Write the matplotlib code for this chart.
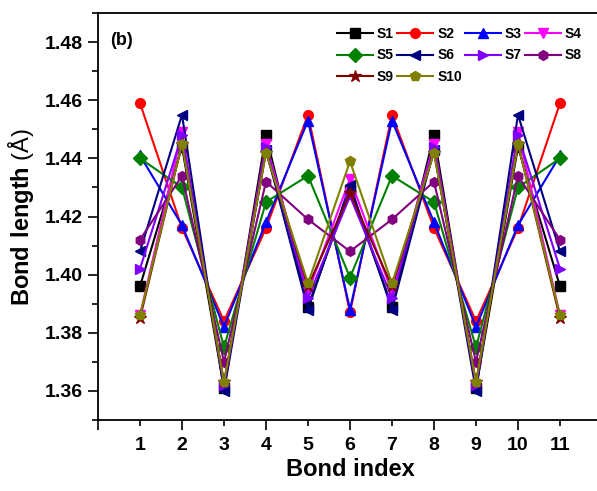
import matplotlib
matplotlib.use("Agg")
import matplotlib.pyplot as plt

plt.rcParams['font.family'] = ['Liberation Sans', 'DejaVu Sans']
plt.rcParams['font.weight'] = 'bold'
plt.rcParams['mathtext.fontset'] = 'custom'
plt.rcParams['mathtext.bf'] = 'Liberation Sans:bold'
plt.rcParams['mathtext.rm'] = 'Liberation Sans'

bond_index = [1, 2, 3, 4, 5, 6, 7, 8, 9, 10, 11]

s1 = [1.396, 1.444, 1.361, 1.448, 1.389, 1.429, 1.389, 1.448, 1.361, 1.444, 1.396]
s2 = [1.459, 1.416, 1.384, 1.416, 1.455, 1.387, 1.455, 1.416, 1.384, 1.416, 1.459]
s3 = [1.441, 1.417, 1.382, 1.418, 1.453, 1.388, 1.453, 1.418, 1.382, 1.417, 1.441]
s4 = [1.386, 1.449, 1.362, 1.445, 1.394, 1.433, 1.394, 1.445, 1.362, 1.449, 1.386]
s5 = [1.440, 1.430, 1.375, 1.425, 1.434, 1.399, 1.434, 1.425, 1.375, 1.430, 1.440]
s6 = [1.408, 1.455, 1.360, 1.443, 1.388, 1.431, 1.388, 1.443, 1.360, 1.455, 1.408]
s7 = [1.402, 1.448, 1.362, 1.444, 1.392, 1.427, 1.392, 1.444, 1.362, 1.448, 1.402]
s8 = [1.412, 1.434, 1.370, 1.432, 1.419, 1.408, 1.419, 1.432, 1.370, 1.434, 1.412]
s9 = [1.385, 1.445, 1.363, 1.442, 1.396, 1.428, 1.396, 1.442, 1.363, 1.445, 1.385]
s10 = [1.386, 1.445, 1.363, 1.442, 1.397, 1.439, 1.397, 1.442, 1.363, 1.445, 1.386]

series = [s1, s2, s3, s4, s5, s6, s7, s8, s9, s10]
names = ['S1', 'S2', 'S3', 'S4', 'S5', 'S6', 'S7', 'S8', 'S9', 'S10']
colors = ['#000000', '#FF0000', '#0000FF', '#FF00FF', '#008000',
          '#000080', '#8000FF', '#800080', '#800000', '#808000']
markers = ['s', 'o', '^', 'v', 'D', '<', '>', 'h', '*', 'p']

fig = plt.figure(figsize=(5.97, 4.91), dpi=100)
ax = fig.add_axes([98 / 597, 1 - 420 / 491, 504 / 597, 407 / 491])

lines = []
for ys, name, c, m in zip(series, names, colors, markers):
    ms = 9 if m == '*' else 7
    l, = ax.plot(bond_index, ys, color=c, marker=m, markersize=ms, linewidth=1.5, label=name)
    lines.append(l)

ax.set_xlim(0, 12)
ax.set_ylim(1.35, 1.49)

ax.set_xticks([0, 2, 4, 6, 8, 10, 12])
ax.set_xticklabels(['', '2', '4', '6', '8', '10', ''])
ax.set_xticks([1, 3, 5, 7, 9, 11], minor=True)
ax.set_xticklabels(['1', '3', '5', '7', '9', '11'], minor=True)
ax.tick_params(axis='x', which='major', direction='out', length=7, width=1.2, pad=5, labelsize=14)
ax.tick_params(axis='x', which='minor', direction='out', length=4, width=1.2, pad=8, labelsize=14)

ax.set_yticks([1.36, 1.38, 1.40, 1.42, 1.44, 1.46, 1.48])
ax.set_yticklabels(['1.36', '1.38', '1.40', '1.42', '1.44', '1.46', '1.48'])
ax.set_yticks([1.35, 1.37, 1.39, 1.41, 1.43, 1.45, 1.47, 1.49], minor=True)
ax.tick_params(axis='y', which='major', direction='out', length=7, width=1.2, pad=4, labelsize=14)
ax.tick_params(axis='y', which='minor', direction='out', length=4, width=1.2)

for sp in ax.spines.values():
    sp.set_linewidth(1.3)

ax.set_xlabel('Bond index', fontsize=17, fontweight='bold', labelpad=3)
ax.set_ylabel(r'$\mathbf{Bond\ length}$ (Å)', fontsize=17, fontweight='normal', labelpad=6)

ax.text(0.3, 1.4805, '(b)', fontsize=13, fontweight='bold', va='center', ha='left')

# row-major legend order (matplotlib fills columns first)
order = [0, 4, 8, 1, 5, 9, 2, 6, 3, 7]
leg = ax.legend([lines[i] for i in order], [names[i] for i in order],
                loc='upper left', bbox_to_anchor=((334 - 98) / 504, 0.973), ncol=4, frameon=False,
                prop={'size': 10, 'weight': 'bold'}, handlelength=2.6, handletextpad=0.3,
                columnspacing=0.2, labelspacing=0.55, borderaxespad=0.0, borderpad=0.2)

fig.savefig('out.png', dpi=100)
